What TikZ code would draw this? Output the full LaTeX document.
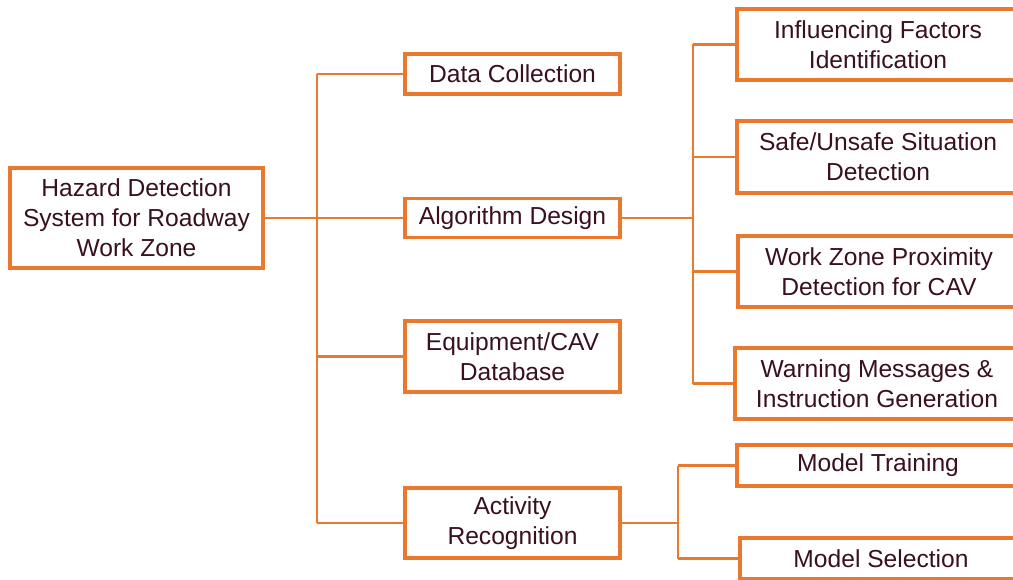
\documentclass[tikz,border=0pt]{standalone}
\usepackage{fontspec}
\setmainfont{Liberation Sans}
\definecolor{accent}{HTML}{E8792F}
\definecolor{ink}{HTML}{3A1020}
\begin{document}
\begin{tikzpicture}[x=1pt,y=-1pt,
  box/.style={draw=accent, line width=3.2pt, fill=white, text=ink,
    font=\fontsize{24.6}{30}\selectfont, align=center, inner sep=0pt,
    minimum width=#1},
  box/.default=215pt,
  link/.style={draw=accent, line width=2.3pt}]
\useasboundingbox (0,0) rectangle (1013,580);
\clip (0,0) rectangle (1013,580);
\fill[white] (0,0) rectangle (1013,580);

% connector junction columns
\coordinate (t1) at (317,0);
\coordinate (t2) at (693,0);
\coordinate (t3) at (678,0);

% root
\node[box=253pt, minimum height=100pt] (root) at (136.5,218) {Hazard Detection\\System for Roadway\\Work Zone};

% first level
\node[box, minimum height=40pt] (dc) at (512.5,74) {Data Collection};
\node[box, minimum height=39pt] (ad) at (512.5,218) {Algorithm Design};
\node[box, minimum height=71pt] (eq) at (512.5,356.5) {Equipment/CAV\\Database};
\node[box, minimum height=70pt] (ar) at (512.5,523) {Activity\\Recognition};

% second level, algorithm design
\node[box=282pt, minimum height=71pt] (if) at (878,44.5) {Influencing Factors\\Identification};
\node[box=282pt, minimum height=72pt] (su) at (878,157) {Safe/Unsafe Situation\\Detection};
\node[box=282pt, minimum height=71pt] (wz) at (879,271.5) {Work Zone Proximity\\Detection for CAV};
\node[box=284pt, minimum height=71pt] (wm) at (877,383.5) {Warning Messages \&\\Instruction Generation};

% second level, activity recognition
\node[box=282pt, minimum height=41pt] (mt) at (878,465.5) {Model Training};
\node[box=282pt, minimum height=41pt] (ms) at (881,558.5) {Model Selection};

% connectors from the root
\draw[link] (root.east) -- (ad.west);
\draw[link] (t1 |- dc.west) -- (t1 |- ar.west);
\draw[link] (t1 |- dc.west) -- (dc.west);
\draw[link] (t1 |- eq.west) -- (eq.west);
\draw[link] (t1 |- ar.west) -- (ar.west);

% connectors from algorithm design
\draw[link] (ad.east) -- (t2 |- ad.east);
\draw[link] (t2 |- if.west) -- (t2 |- wm.west);
\draw[link] (t2 |- if.west) -- (if.west);
\draw[link] (t2 |- su.west) -- (su.west);
\draw[link] (t2 |- wz.west) -- (wz.west);
\draw[link] (t2 |- wm.west) -- (wm.west);

% connectors from activity recognition
\draw[link] (ar.east) -- (t3 |- ar.east);
\draw[link] (t3 |- mt.west) -- (t3 |- ms.west);
\draw[link] (t3 |- mt.west) -- (mt.west);
\draw[link] (t3 |- ms.west) -- (ms.west);
\end{tikzpicture}
\end{document}
